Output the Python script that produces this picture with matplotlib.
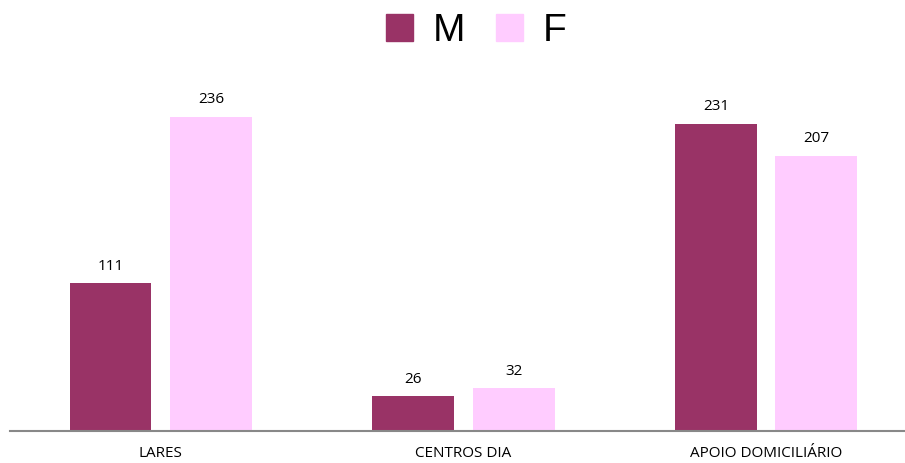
import matplotlib.pyplot as plt
import numpy as np
from matplotlib.patches import Patch

categories = ['LARES', 'CENTROS DIA', 'APOIO DOMICILIÁRIO']
masc = [111, 26, 231]
fem = [236, 32, 207]

col_m = '#993366'
col_f = '#FFCCFF'

fig = plt.figure(figsize=(9.05, 4.63), dpi=100)
ax = fig.add_axes([10 / 905, 32 / 463, 895 / 905, 371 / 463])

x = np.arange(len(categories))
w = 0.27
off = 0.166
bars_m = ax.bar(x - off, masc, w, color=col_m, label='M')
bars_f = ax.bar(x + off, fem, w, color=col_f, label='F')

for bars in (bars_m, bars_f):
    for b in bars:
        ax.annotate(str(int(b.get_height())), (b.get_x() + b.get_width() / 2, b.get_height()),
                    xytext=(0, 7), textcoords='offset points', ha='center', va='bottom',
                    fontsize=11, family='Open Sans')

ax.set_xlim(-0.498, 2.459)
ax.set_ylim(0, 279)
ax.set_xticks(x)
ax.set_xticklabels(categories, fontsize=11, family='Open Sans')
ax.tick_params(axis='x', length=0, pad=11)
ax.set_yticks([])
for s in ['top', 'right', 'left']:
    ax.spines[s].set_visible(False)
ax.spines['bottom'].set_color('#888888')
ax.spines['bottom'].set_linewidth(1.5)

handles = [Patch(color=col_m, label='M'), Patch(color=col_f, label='F')]
fig.legend(handles=handles, loc='upper center', bbox_to_anchor=(0.526, 1.048), ncol=2,
           frameon=False, prop={'family': 'Liberation Sans', 'size': 28},
           handlelength=0.7, handleheight=0.7, handletextpad=0.5, columnspacing=0.8)

fig.savefig('out.png', dpi=100)
